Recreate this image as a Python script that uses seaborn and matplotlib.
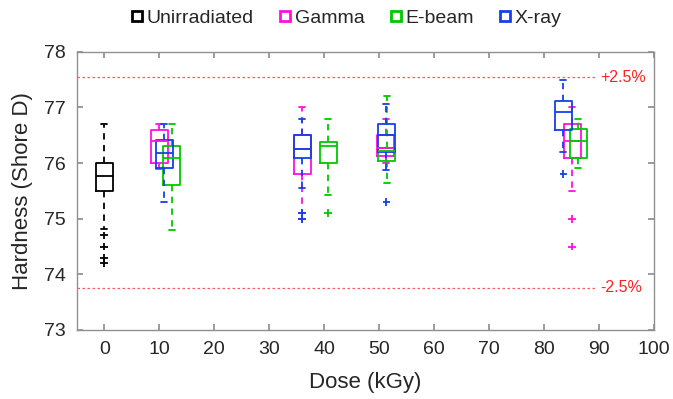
import matplotlib
matplotlib.use("Agg")
import matplotlib.pyplot as plt
from matplotlib.lines import Line2D
import pandas as pd
import seaborn as sns

# box statistics (Shore D hardness)
groups = ["Unirradiated", "Gamma", "E-beam", "X-ray"]
colors = ["#000000", "#ff10e0", "#00c800", "#1540e8"]

unirr_dose = [0]
unirr_lo = [74.82]
unirr_q1 = [75.5]
unirr_med = [75.76]
unirr_q3 = [76.0]
unirr_hi = [76.7]
unirr_fliers = [[74.7, 74.5, 74.3, 74.2]]

gamma_dose = [10, 36, 51.2, 85.1]
gamma_lo = [75.9, 75.1, 76.0, 75.5]
gamma_q1 = [76.0, 75.8, 76.12, 76.1]
gamma_med = [76.4, 76.25, 76.27, 76.4]
gamma_q3 = [76.6, 76.5, 76.5, 76.7]
gamma_hi = [76.7, 77.0, 76.8, 77.0]
gamma_fliers = [[], [75.0], [], [75.0, 74.5]]

ebeam_dose = [12.3, 40.7, 51.4, 86.2]
ebeam_lo = [74.8, 75.43, 75.65, 75.91]
ebeam_q1 = [75.6, 76.0, 76.03, 76.1]
ebeam_med = [76.1, 76.31, 76.22, 76.4]
ebeam_q3 = [76.31, 76.38, 76.27, 76.61]
ebeam_hi = [76.7, 76.8, 77.2, 76.8]
ebeam_fliers = [[], [75.1], [], []]

xray_dose = [10.9, 36, 51.3, 83.5]
xray_lo = [75.3, 75.55, 75.87, 76.2]
xray_q1 = [75.91, 76.1, 76.2, 76.59]
xray_med = [76.19, 76.25, 76.5, 76.92]
xray_q3 = [76.41, 76.5, 76.71, 77.11]
xray_hi = [76.7, 76.8, 77.07, 77.5]
xray_fliers = [[], [75.1, 75.0], [75.3], [75.8]]

baseline = 75.65
limit_labels = ["+2.5%", "-2.5%"]
limit_factors = [1.025, 0.975]

series = [
    (unirr_dose, unirr_lo, unirr_q1, unirr_med, unirr_q3, unirr_hi, unirr_fliers),
    (gamma_dose, gamma_lo, gamma_q1, gamma_med, gamma_q3, gamma_hi, gamma_fliers),
    (ebeam_dose, ebeam_lo, ebeam_q1, ebeam_med, ebeam_q3, ebeam_hi, ebeam_fliers),
    (xray_dose, xray_lo, xray_q1, xray_med, xray_q3, xray_hi, xray_fliers),
]

sns.set_theme(style="ticks")
plt.rcParams["font.family"] = ["Liberation Sans", "DejaVu Sans"]

fig = plt.figure(figsize=(6.73, 3.99), dpi=100)
ax = fig.add_axes([0.114, 0.173, 0.858, 0.697])

flier_rows = []
for name, color, (dose, lo, q1, med, q3, hi, fl) in zip(groups, colors, series):
    stats = []
    for i in range(len(dose)):
        stats.append({"whislo": lo[i], "q1": q1[i], "med": med[i],
                      "q3": q3[i], "whishi": hi[i], "fliers": []})
        for v in fl[i]:
            flier_rows.append({"Dose": dose[i], "Hardness": v, "Group": name})
    ax.bxp(stats, positions=dose, widths=3.1, capwidths=1.1, showfliers=False,
           manage_ticks=False,
           boxprops=dict(color=color, linewidth=1.3),
           medianprops=dict(color=color, linewidth=1.3),
           whiskerprops=dict(color=color, linewidth=1.3, linestyle=(0, (3.5, 3))),
           capprops=dict(color=color, linewidth=1.3))

fliers = pd.DataFrame(flier_rows)
sns.scatterplot(data=fliers, x="Dose", y="Hardness", hue="Group",
                hue_order=groups, palette=colors, marker="+", s=30,
                linewidth=1.3, legend=False, ax=ax, zorder=3)

for lab, f in zip(limit_labels, limit_factors):
    ax.plot([-5, 89.3], [baseline * f] * 2, color="#ff5a5a", lw=0.9,
            linestyle=(0, (2, 2)))
    ax.text(90.2, baseline * f, lab, color="#ff2020", fontsize=11.5,
            va="center", ha="left")

ax.set_xlim(-5, 100)
ax.set_ylim(73, 78)
ax.set_xticks(range(0, 101, 10))
ax.set_yticks(range(73, 79))
ax.set_xlabel("Dose (kGy)", fontsize=16, color="#262626", labelpad=10)
ax.set_ylabel("Hardness (Shore D)", fontsize=16, color="#262626", labelpad=8)
ax.tick_params(direction="in", top=True, right=True, length=4, color="#909090",
               labelsize=14, labelcolor="#262626", pad=8)
for sp in ax.spines.values():
    sp.set_color("#909090")
    sp.set_linewidth(1.0)

handles = [Line2D([], [], linestyle="none", marker="s", markersize=7,
                  markerfacecolor="none", markeredgecolor=c, markeredgewidth=2)
           for c in colors]
fig.legend(handles, groups, loc="center", bbox_to_anchor=(0.515, 0.955),
           ncol=4, frameon=False, fontsize=14, handlelength=0.6,
           handletextpad=0.2, columnspacing=1.3)

fig.savefig("out.png", dpi=100)
